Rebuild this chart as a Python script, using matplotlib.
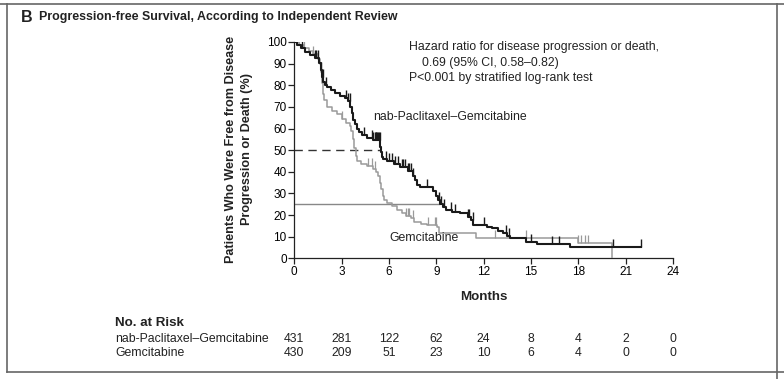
import numpy as np
import matplotlib
matplotlib.use('Agg')
import matplotlib.pyplot as plt
from matplotlib import font_manager
from matplotlib.lines import Line2D
from matplotlib.transforms import blended_transform_factory


def _pick(*names):
    for n in names:
        try:
            font_manager.findfont(n, fallback_to_default=False)
            return n
        except Exception:
            continue
    return 'DejaVu Sans'


REG = _pick('Liberation Sans', 'Arial', 'DejaVu Sans')
NARROW = _pick('Liberation Sans Narrow', 'Liberation Sans')

# step curves (months, % free from progression)
nab_t = [0, 0.15, 0.4, 0.7, 1.0, 1.3, 1.55, 1.7, 1.78, 1.85, 1.95, 2.05, 2.3, 2.6, 2.9,
         3.2, 3.4, 3.55, 3.65, 3.75, 3.85, 3.95, 4.1, 4.3, 4.6, 5.0, 5.42, 5.48, 5.54, 5.6,
         5.9, 6.3, 6.7, 7.2, 7.5, 7.65, 7.8, 7.95, 8.8, 8.95, 9.1, 9.25, 9.4, 9.6, 10.0,
         10.5, 11.0, 11.2, 11.35, 12.2, 12.5, 12.9, 13.2, 13.45, 13.7, 14.7, 15.4, 17.5, 22.0]
nab_s = [100, 98.5, 97, 95.5, 94, 92.5, 90.5, 87, 84, 81.5, 80, 79, 77.8, 76.5, 75,
         74, 72.5, 70, 67, 64, 62, 60, 58.5, 57, 55.5, 54.5, 51.5, 49, 47, 46,
         45, 43.5, 42, 40.5, 38, 36, 34, 33, 31, 29, 27, 25, 23.5, 22.3, 21.5,
         20.8, 19.2, 17.5, 15.4, 14.6, 13.9, 12.8, 11.6, 10.4, 9.2, 7.7, 6.5, 5.4, 5.4]

gem_t = [0, 0.3, 0.6, 0.9, 1.2, 1.5, 1.65, 1.7, 1.75, 1.8, 1.9, 2.1, 2.4, 2.7, 3.0,
         3.3, 3.5, 3.6, 3.7, 3.8, 3.9, 4.0, 4.2, 4.6, 5.0, 5.15, 5.3, 5.4, 5.5, 5.6,
         5.7, 5.9, 6.2, 6.5, 6.8, 7.1, 7.4, 7.6, 8.0, 8.4, 9.05, 9.15, 11.5, 18.0, 20.15]
gem_s = [100, 98.5, 97, 96, 94.5, 92, 90, 86, 81, 76, 73, 70, 68, 66.5, 64.5,
         62.5, 61, 59, 55, 51, 47.5, 45, 43.5, 42.5, 41.5, 40, 38, 35, 32, 29,
         27, 25.5, 24, 22.5, 21, 19.5, 18.5, 17, 16, 15.4, 14.6, 11.6, 9.3, 7.2, 0]

# censoring marks
nab_cens = [0.5, 1.3, 1.4, 1.5, 1.7, 1.8, 2.0, 3.3, 3.4, 3.5, 4.4, 4.9, 5.0, 5.1, 5.15,
            5.2, 5.25, 5.3, 5.35, 5.4, 5.8, 6.0, 6.2, 6.4, 6.6, 6.8, 6.9, 7.0, 7.2,
            7.3, 7.4, 7.5, 8.4, 9.15, 9.3, 9.5, 9.9, 10.2, 11.0, 11.1, 11.3, 12.0,
            13.4, 13.6, 15.0, 16.3, 16.8, 20.2, 22.0]
gem_cens = [0.3, 0.6, 1.2, 3.0, 4.7, 4.9, 5.1, 7.1, 7.2, 7.3, 7.5, 8.5, 8.9, 9.0,
            12.7, 14.7, 18.0, 18.2, 18.4, 18.6]

risk_months = [0, 3, 6, 9, 12, 15, 18, 21, 24]
risk_nab = [431, 281, 122, 62, 24, 8, 4, 2, 0]
risk_gem = [430, 209, 51, 23, 10, 6, 4, 0, 0]

BLACK = '#1a1a1a'
GRAY = '#9a9a9a'
W, H = 784, 379
UPTICK = [(0, 0), (0, 1)]


def step_at(t, s, x):
    i = np.searchsorted(t, x, side='right') - 1
    return np.asarray(s)[np.clip(i, 0, len(s) - 1)]


fig = plt.figure(figsize=(W / 100, H / 100), dpi=100)
ax = fig.add_axes([294.3 / W, 1 - 258.3 / H, (673 - 294.3) / W, (258.3 - 42) / H])

# median reference lines
ax.plot([0, 5.45], [50, 50], color='#333333', lw=1, dashes=(6, 4))
ax.plot([0, 9.2], [25, 25], color='#888888', lw=1)

ax.step(gem_t, gem_s, where='post', color=GRAY, lw=1.1, zorder=3)
ax.step(nab_t, nab_s, where='post', color=BLACK, lw=1.5, zorder=4)
ax.plot(gem_cens, step_at(gem_t, gem_s, gem_cens), ls='none', marker=UPTICK,
        ms=11, mew=0.9, color=GRAY, zorder=3)
ax.plot(nab_cens, step_at(nab_t, nab_s, nab_cens), ls='none', marker=UPTICK,
        ms=11, mew=1.0, color=BLACK, zorder=4)

ax.set_xlim(0, 24)
ax.set_ylim(0, 100)
ax.set_xticks(range(0, 25, 3))
ax.set_yticks(range(0, 101, 10))
for sp in ('top', 'right'):
    ax.spines[sp].set_visible(False)
for sp in ('left', 'bottom'):
    ax.spines[sp].set_linewidth(0.9)
    ax.spines[sp].set_color('#222222')
ax.tick_params(direction='out', length=4, width=0.9, color='#222222', pad=1.5,
               labelsize=8.5)
for lab in ax.get_xticklabels() + ax.get_yticklabels():
    lab.set_family(REG)
ax.patch.set_alpha(0)

txt = dict(family=REG, fontsize=8.8, color='#222222')
ax.text(7.27, 97.5, 'Hazard ratio for disease progression or death,', va='center', **txt)
ax.text(8.11, 90.4, '0.69 (95% CI, 0.58\u20130.82)', va='center', **txt)
ax.text(7.27, 83.2, 'P<0.001 by stratified log-rank test', va='center', **txt)
ax.text(4.97, 65.5, 'nab-Paclitaxel\u2013Gemcitabine', va='center', **txt)
ax.text(6.0, 9.6, 'Gemcitabine', va='center', **txt)

bold = dict(family=NARROW, fontweight='bold', color='#222222')
fig.text(21 / W, 1 - 17 / H, 'B', fontsize=11.5, va='center', **bold)
fig.text(39 / W, 1 - 17 / H, 'Progression-free Survival, According to Independent Review',
         fontsize=8.9, va='center', **bold)
fig.text(239 / W, 1 - 149 / H,
         'Patients Who Were Free from Disease\nProgression or Death (%)',
         rotation=90, ha='center', va='center', fontsize=9.1, linespacing=1.4, **bold)
fig.text(484 / W, 1 - 297 / H, 'Months', ha='center', va='center', fontsize=9.6, **bold)
fig.text(115 / W, 1 - 323 / H, 'No. at Risk', va='center', fontsize=9.6, **bold)

tr = blended_transform_factory(ax.transData, fig.transFigure)
fig.text(115 / W, 1 - 339 / H, 'nab-Paclitaxel\u2013Gemcitabine', va='center', **txt)
fig.text(115 / W, 1 - 353 / H, 'Gemcitabine', va='center', **txt)
for m, a, b in zip(risk_months, risk_nab, risk_gem):
    ax.text(m, 1 - 339 / H, str(a), transform=tr, ha='center', va='center',
            clip_on=False, **txt)
    ax.text(m, 1 - 353 / H, str(b), transform=tr, ha='center', va='center',
            clip_on=False, **txt)

# panel frame
frame = dict(color='#666666', lw=1.2, transform=fig.transFigure)
fig.add_artist(Line2D([0, 1], [1 - 4 / H, 1 - 4 / H], **frame))
fig.add_artist(Line2D([7 / W, 1], [1 - 372 / H, 1 - 372 / H], **frame))
fig.add_artist(Line2D([7 / W, 7 / W], [1 - 4 / H, 1 - 372 / H], **frame))
fig.add_artist(Line2D([777 / W, 777 / W], [1 - 4 / H, 0], **frame))

fig.savefig('out.png', dpi=100)
